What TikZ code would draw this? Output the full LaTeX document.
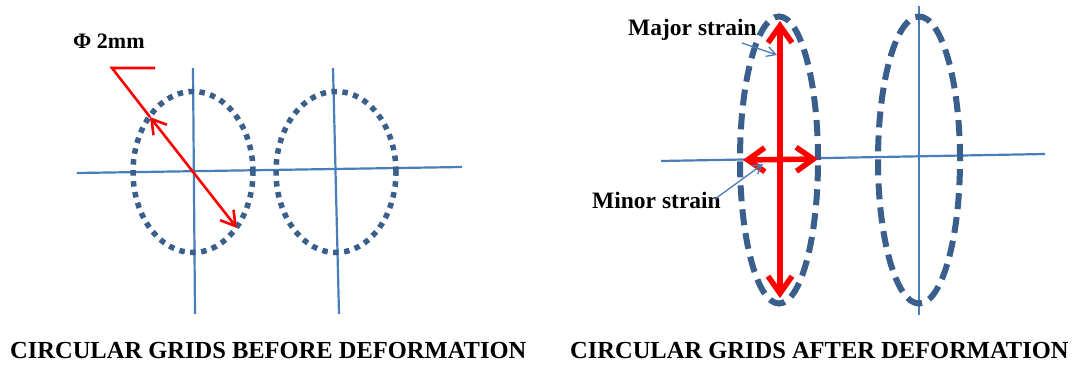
\documentclass[tikz,border=0pt]{standalone}
\usepackage{fontspec}
\setmainfont{Liberation Serif}
\usetikzlibrary{arrows.meta,shapes.geometric}
\definecolor{gridblue}{HTML}{4A7EBB}
\definecolor{ellblue}{HTML}{3A5F8D}
\definecolor{myred}{HTML}{FF0000}
\tikzset{
  gridline/.style={draw=gridblue, line width=2.2pt},
  dotell/.style={ellipse, draw=ellblue, line width=5.5pt, dash pattern=on 5.5pt off 5.5pt, inner sep=0pt},
  dashell/.style={ellipse, draw=ellblue, line width=6pt, dash pattern=on 16pt off 8pt, inner sep=0pt},
  redthin/.style={draw=myred, line width=2.6pt},
  redthick/.style={draw=myred, line width=5.5pt},
  pointer/.style={draw=gridblue, line width=1.3pt, -{Straight Barb[length=9pt,width=10pt,line width=1.3pt]}},
  lbl/.style={font=\fontsize{23.5}{27}\selectfont\bfseries, inner sep=0pt, anchor=base west},
  caption/.style={font=\fontsize{24.5}{28}\selectfont\bfseries, inner sep=0pt, anchor=base west},
}
\begin{document}
\begin{tikzpicture}[x=1pt,y=-1pt]
\useasboundingbox[fill=white] (0,0) rectangle (1078,367);
% ---------- left panel ----------
\coordinate (lh1) at (77,173);
\coordinate (lh2) at (462,167);
\coordinate (lv1a) at (193,68);
\coordinate (lv1b) at (195,314);
\coordinate (lv2a) at (333,68);
\coordinate (lv2b) at (339,314);
\draw[gridline] (lh1) -- (lh2);
\draw[gridline] (lv1a) -- (lv1b);
\draw[gridline] (lv2a) -- (lv2b);
\node[dotell, minimum width=120pt, minimum height=161pt] (c1) at (193,172) {};
\node[dotell, minimum width=120pt, minimum height=161pt] (c2) at (336,172) {};
% diameter callout
\coordinate (dA) at (155,68);
\coordinate (dB) at (112,68);
\coordinate (dC) at (150,117);
\coordinate (dD) at (237,228);
\draw[redthin, line join=miter] (dA) -- (dB) -- (dC);
\draw[redthin, {Straight Barb[length=14pt,width=17pt,line width=2.6pt]}-{Straight Barb[length=14pt,width=17pt,line width=2.6pt]}] (dC) -- (dD);
\node[font=\fontsize{22}{26}\selectfont\bfseries, inner sep=0pt, anchor=base west] (phi) at (73,48) {Φ 2mm};
% ---------- right panel ----------
\coordinate (rh1) at (661,161);
\coordinate (rh2) at (1045,154);
\coordinate (rv2a) at (919,6);
\coordinate (rv2b) at (919,315);
\draw[gridline] (rh1) -- (rh2);
\draw[gridline] (rv2a) -- (rv2b);
\node[dashell, minimum width=78pt, minimum height=287pt] (e1) at (779,160) {};
\node[dashell, minimum width=82pt, minimum height=287pt] (e2) at (919,160) {};
\coordinate (mjT) at (780,21);
\coordinate (mjB) at (780,298);
\coordinate (mnL) at (743,160);
\coordinate (mnR) at (818,159);
\draw[redthick, {Straight Barb[length=17pt,width=24pt,line width=5.5pt]}-{Straight Barb[length=17pt,width=24pt,line width=5.5pt]}] (mjT) -- (mjB);
\draw[redthick, {Straight Barb[length=17pt,width=24pt,line width=5.5pt]}-{Straight Barb[length=17pt,width=24pt,line width=5.5pt]}] (mnL) -- (mnR);
\node[lbl] (major) at (628,35) {Major strain};
\node[lbl] (minor) at (592,208) {Minor strain};
\coordinate (pm1) at (742,43);
\coordinate (pm2) at (777,55);
\coordinate (pn1) at (715,199);
\coordinate (pn2) at (763,164);
\draw[pointer] (pm1) -- (pm2);
\draw[pointer] (pn1) -- (pn2);
% ---------- captions ----------
\node[caption] (capL) at (10,358) {CIRCULAR GRIDS BEFORE DEFORMATION};
\node[caption] (capR) at (570,358) {CIRCULAR GRIDS AFTER DEFORMATION};
\end{tikzpicture}
\end{document}
